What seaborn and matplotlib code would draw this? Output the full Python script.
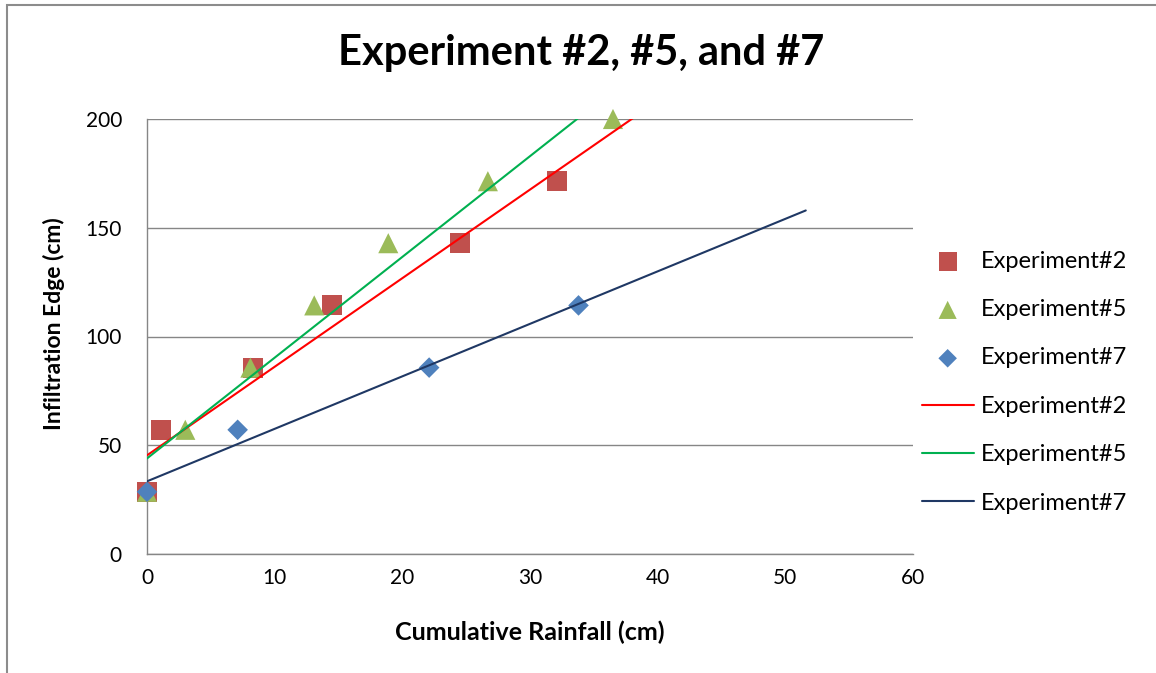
#!/usr/bin/env python3
"""Infiltration edge vs cumulative rainfall, experiments #2, #5 and #7, with linear trend lines."""

import matplotlib

matplotlib.use("Agg")
import matplotlib.pyplot as plt
import numpy as np
import pandas as pd
import seaborn as sns
from matplotlib.patches import Rectangle

# values
exp2_rain = [0.0, 1.1, 8.3, 14.5, 24.5, 32.1]
exp2_edge = [28.6, 57.1, 85.7, 114.3, 142.9, 171.4]
exp5_rain = [0.0, 3.0, 8.1, 13.1, 18.9, 26.7, 36.5]
exp5_edge = [28.6, 57.1, 85.7, 114.3, 142.9, 171.4, 200.0]
exp7_rain = [0.0, 7.1, 22.1, 33.8]
exp7_edge = [28.6, 57.1, 85.7, 114.3]

series_names = ["Experiment#2", "Experiment#5", "Experiment#7"]
x_ticks = [0, 10, 20, 30, 40, 50, 60]
y_ticks = [0, 50, 100, 150, 200]
trend_forward = 17.8  # Excel trendline "forecast forward"

marker_colors = ["#C0504D", "#9BBB59", "#4F81BD"]
markers = ["s", "^", "D"]
marker_sizes = [210, 210, 110]
line_colors = ["#FF0000", "#00B050", "#1F3864"]
GREY = "#868686"


def main() -> None:
    sns.set_theme(style="white")
    plt.rcParams["font.family"] = ["Lato", "DejaVu Sans"]
    plt.rcParams["text.color"] = "black"
    plt.rcParams["axes.labelcolor"] = "black"

    data = [(exp2_rain, exp2_edge), (exp5_rain, exp5_edge), (exp7_rain, exp7_edge)]

    fig = plt.figure(figsize=(11.56, 6.73), dpi=100)
    ax = fig.add_axes([147 / 1156, 119 / 673, 766 / 1156, 435 / 673])

    for (xs, ys), name, c, m, s in zip(data, series_names, marker_colors, markers, marker_sizes):
        df = pd.DataFrame({"rain": xs, "edge": ys})
        sns.scatterplot(data=df, x="rain", y="edge", color=c, marker=m, s=s,
                        edgecolor="none", label=name, ax=ax, zorder=3, clip_on=False)

    for (xs, ys), name, c in zip(data, series_names, line_colors):
        slope, icpt = np.polyfit(xs, ys, 1)
        fit_x = np.array([min(xs), max(xs) + trend_forward])
        fit = pd.DataFrame({"rain": fit_x, "edge": icpt + slope * fit_x})
        sns.lineplot(data=fit, x="rain", y="edge", color=c, linewidth=1.5,
                     label=name, ax=ax, zorder=4)

    ax.set_xlim(0, 60)
    ax.set_ylim(0, 200)
    ax.set_xticks(x_ticks)
    ax.set_yticks(y_ticks)
    ax.tick_params(axis="both", length=0, labelsize=15, colors="black")
    ax.tick_params(axis="y", pad=18)
    ax.tick_params(axis="x", pad=10)
    ax.yaxis.grid(True, color=GREY, linewidth=1.0)
    ax.xaxis.grid(False)
    for side in ["top", "right"]:
        ax.spines[side].set_visible(False)
    for side in ["left", "bottom"]:
        ax.spines[side].set_color(GREY)
        ax.spines[side].set_linewidth(1.0)

    ax.set_xlabel("Cumulative Rainfall (cm)", fontsize=18, fontweight="bold")
    ax.set_ylabel("Infiltration Edge (cm)", fontsize=16.5, fontweight="bold")
    ax.xaxis.set_label_coords(0.5, -0.152)
    ax.yaxis.set_label_coords(-0.107, 0.529)

    fig.text(0.5026, 1 - 53 / 673, "Experiment #2, #5, and #7", fontsize=30,
             fontweight="bold", ha="center", va="center")

    handles, labels = ax.get_legend_handles_labels()
    ax.legend(handles, labels, loc="center left", bbox_to_anchor=(0.999, 0.395),
              frameon=False, fontsize=17, handlelength=2.2, handletextpad=0.3,
              labelspacing=1.16, markerscale=0.9, borderaxespad=0)

    fig.patches.append(Rectangle((7 / 1156, -0.1), 1.2, 1.1 - 5 / 673,
                                 transform=fig.transFigure, fill=False,
                                 edgecolor="#8C8C8C", linewidth=1.5))

    fig.savefig("out.png", dpi=100)
    plt.close(fig)


if __name__ == "__main__":
    main()
